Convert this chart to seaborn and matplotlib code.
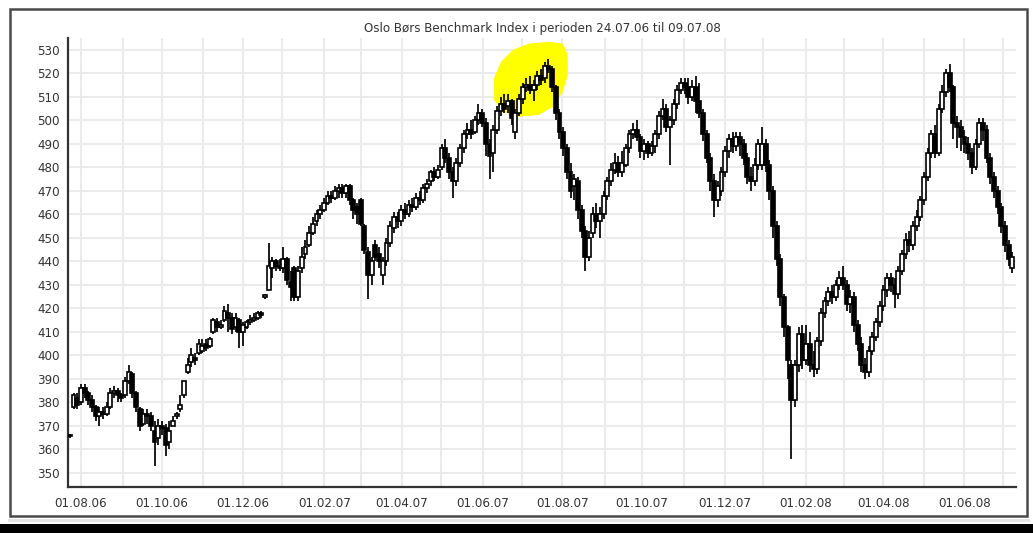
import numpy as np
import pandas as pd
import matplotlib
matplotlib.use("Agg")
import matplotlib.pyplot as plt
import seaborn as sns
from matplotlib.patches import Rectangle, Polygon

# OHLC, one candle per two trading days (24.07.06 - 09.07.08)
opens = [
    365.5, 378, 382,
    380, 386, 384, 381, 378, 374, 376, 375, 378, 384, 385, 383,
    383, 389, 392, 384, 377, 371, 375, 374, 368, 365,
    370, 369, 363, 370, 374, 377, 383, 393, 397, 399, 401,
    402, 405, 404, 410, 414, 412, 415, 418, 416, 412, 415,
    410, 412, 414, 415, 416, 418, 425, 428, 437, 440, 438,
    437, 441, 431, 437, 425, 437, 443, 447, 452, 457, 460,
    462, 465, 468, 467, 470, 471, 469, 472, 466, 463,
    466, 455, 444, 434, 447, 443, 434, 440, 448, 454, 459,
    457, 462, 460, 464, 463, 467, 466, 471, 474, 478, 476,
    480, 488, 484, 478, 474, 482, 488, 494, 496, 495, 500,
    503, 499, 490, 486, 496, 504, 507, 506, 508, 495, 503,
    509, 514, 515, 513, 515, 519, 518, 523, 522, 514, 503,
    495, 488, 478, 472, 474, 462, 453, 442, 452, 460, 457,
    460, 468, 474, 479, 482, 478, 481, 488, 494, 496,
    493, 487, 490, 486, 489, 494, 502, 505, 497, 500, 507, 513,
    516, 514, 510, 514, 508, 503, 494, 484, 474, 466, 470,
    478, 487, 492, 489, 493, 490, 484, 476, 474, 481,
    481, 490, 481, 470, 455, 441, 425, 412, 396, 381, 396, 409,
    398, 405, 396, 394, 406, 418, 423, 427, 425, 430,
    433, 430, 422, 425, 413, 405, 396, 393, 402, 408, 414,
    421, 428, 433, 430, 426, 436, 443, 449, 447, 455, 459,
    466, 476, 486, 494, 486, 505, 512, 520, 514, 499, 497,
    493, 490, 486, 480, 490, 499, 496, 484, 476, 470,
    463, 455, 447, 437,
]
highs = [
    366.5, 384, 384,
    388, 388, 385, 383, 379, 378, 378, 380, 386, 387, 386, 384,
    391, 396, 393, 385, 378, 377, 377, 376, 372, 373,
    372, 371, 372, 374, 376, 383, 389, 399, 403, 401, 407,
    407, 407, 408, 416, 416, 415, 421, 422, 418, 418, 416,
    414, 415, 417, 418, 419, 419, 426, 448, 442, 441, 441,
    446, 442, 436, 438, 438, 446, 449, 455, 459, 462, 464,
    467, 470, 470, 472, 473, 473, 473, 473, 467, 465,
    467, 456, 446, 442, 449, 446, 442, 450, 457, 461, 461,
    464, 465, 466, 467, 469, 470, 473, 475, 479, 480, 481,
    490, 492, 486, 480, 484, 490, 496, 499, 500, 502, 507,
    505, 501, 492, 498, 506, 510, 511, 511, 509, 505, 511,
    516, 518, 519, 517, 521, 522, 525, 526, 523, 515, 505,
    497, 490, 482, 477, 476, 464, 455, 453, 463, 465, 463,
    470, 476, 482, 486, 485, 487, 490, 496, 499, 500,
    494, 492, 491, 491, 496, 504, 509, 507, 502, 509, 515, 518,
    518, 518, 517, 519, 516, 505, 496, 486, 477, 474, 480,
    489, 494, 495, 495, 495, 492, 486, 480, 484, 492,
    497, 492, 483, 472, 457, 443, 426, 413, 398, 398, 412, 413,
    413, 410, 402, 408, 420, 425, 429, 430, 432, 436,
    438, 432, 428, 427, 415, 408, 399, 404, 410, 416, 423,
    430, 435, 435, 433, 438, 445, 452, 453, 457, 462, 468,
    478, 488, 496, 498, 507, 515, 522, 524, 515, 502, 500,
    496, 493, 488, 492, 501, 501, 498, 486, 478, 472,
    465, 457, 449, 444,
]
lows = [
    365, 377, 377,
    379, 382, 379, 376, 372, 370, 373, 374, 377, 382, 380, 380,
    382, 388, 382, 376, 368, 370, 371, 368, 353, 362,
    366, 357, 360, 370, 373, 376, 382, 392, 395, 396, 400,
    401, 402, 403, 409, 410, 411, 414, 410, 409, 410, 403,
    404, 411, 413, 414, 415, 416, 424, 428, 433, 436, 436,
    435, 430, 423, 423, 423, 435, 441, 446, 451, 455, 458,
    461, 464, 465, 466, 467, 467, 467, 464, 458, 456,
    455, 443, 424, 430, 440, 437, 430, 438, 446, 452, 454,
    455, 458, 459, 461, 462, 464, 465, 469, 472, 474, 475,
    479, 482, 475, 467, 472, 480, 486, 492, 492, 494, 498,
    497, 485, 475, 478, 494, 502, 503, 503, 498, 492, 502,
    507, 512, 511, 508, 513, 515, 516, 520, 512, 500, 492,
    485, 475, 467, 466, 458, 450, 436, 440, 450, 454, 450,
    458, 466, 472, 477, 476, 476, 480, 486, 492, 491,
    484, 483, 484, 485, 486, 492, 500, 495, 481, 498, 505, 511,
    511, 507, 508, 503, 501, 491, 482, 470, 459, 463, 468,
    476, 484, 486, 487, 485, 481, 473, 470, 472, 479,
    479, 478, 466, 450, 438, 421, 408, 390, 356, 378, 393, 394,
    396, 393, 391, 392, 404, 416, 421, 422, 423, 428,
    428, 419, 418, 410, 402, 393, 390, 391, 400, 406, 412,
    419, 425, 427, 420, 424, 434, 441, 444, 445, 453, 457,
    464, 474, 484, 484, 485, 503, 510, 512, 492, 488, 487,
    486, 483, 477, 479, 488, 491, 482, 473, 467, 460,
    452, 444, 438, 435,
]
closes = [
    366, 383, 379,
    386, 384, 381, 378, 374, 376, 375, 378, 384, 385, 383, 382,
    389, 393, 384, 378, 370, 375, 374, 370, 363, 370,
    369, 362, 368, 372, 375, 379, 389, 396, 400, 398, 405,
    404, 403, 407, 415, 412, 413, 419, 416, 411, 416, 410,
    413, 414, 415, 416, 418, 417, 425.5, 438, 440, 438, 437,
    441, 432, 429, 425, 436, 442, 446, 452, 456, 460, 462,
    465, 468, 467, 470, 471, 469, 472, 466, 462, 460,
    456, 445, 434, 440, 442, 440, 440, 448, 455, 459, 457,
    462, 460, 464, 463, 467, 466, 471, 473, 478, 476, 479,
    488, 484, 478, 474, 482, 488, 494, 496, 494, 500, 503,
    499, 490, 485, 496, 504, 507, 505, 508, 501, 503, 509,
    514, 515, 513, 515, 519, 517, 523, 522, 514, 503, 495,
    488, 478, 470, 475, 462, 453, 442, 450, 460, 457, 460,
    468, 474, 479, 482, 478, 482, 488, 494, 496, 493,
    487, 490, 486, 489, 494, 502, 505, 497, 500, 507, 513, 516,
    514, 510, 514, 508, 503, 494, 484, 474, 466, 472, 478,
    487, 492, 489, 493, 490, 484, 476, 474, 481, 490,
    490, 481, 470, 455, 441, 425, 412, 398, 381, 396, 409, 398,
    405, 396, 394, 406, 418, 423, 427, 425, 430, 433,
    430, 422, 425, 413, 405, 396, 393, 402, 408, 414, 421,
    428, 433, 430, 426, 436, 443, 449, 447, 455, 459, 466,
    476, 486, 494, 486, 505, 512, 520, 514, 499, 497, 493,
    490, 486, 480, 490, 499, 496, 484, 476, 470, 463,
    455, 447, 441, 442,
]

major_labels = ["01.08.06", "01.10.06", "01.12.06", "01.02.07", "01.04.07", "01.06.07",
                "01.08.07", "01.10.07", "01.12.07", "01.02.08", "01.04.08", "01.06.08"]
y_ticks = list(range(350, 531, 10))
title = "Oslo Børs Benchmark Index i perioden 24.07.06 til 09.07.08"

# yellow marker drawn by hand around the July 2007 top (trading-day index, index value)
highlight = [(230, 508.7), (230, 518.1), (233.8, 524.9), (240.3, 530.0), (248.9, 532.6),
             (259.7, 533.4), (267.3, 532.6), (270, 527.9), (270, 519.4), (267.3, 512.1),
             (261.9, 505.7), (254.3, 502.3), (243.5, 501.5), (234.9, 503.6)]

# trading-day axis
bdays = pd.bdate_range("2006-07-24", "2008-07-09")
n_days = len(bdays)
ser = pd.Series(np.arange(n_days), index=bdays)
month_first = ser.groupby([bdays.year, bdays.month]).first().values[1:]
month_names = ser.groupby([bdays.year, bdays.month]).apply(lambda s: s.index[0].strftime("01.%m.%y")).values[1:]
major_pos = [p for p, m in zip(month_first, month_names) if m in major_labels]
minor_pos = [p for p, m in zip(month_first, month_names) if m not in major_labels]

o = np.array(opens, float)
h = np.array(highs, float)
l = np.array(lows, float)
c = np.array(closes, float)
x = np.arange(len(c)) * n_days / len(c)

sns.set_style("whitegrid")
plt.rcParams["font.family"] = ["DejaVu Sans"]

fig = plt.figure(figsize=(10.33, 5.33), dpi=100)
ax = fig.add_axes([68 / 1033, 1 - 487 / 533, (1016 - 68) / 1033, (487 - 38) / 533])

ax.add_patch(Polygon(highlight, closed=True, facecolor="#ffff00", edgecolor="none", zorder=1))

ax.vlines(x, l, h, color="black", linewidth=1.25, zorder=2)
body_bottom = np.minimum(o, c)
body_height = np.maximum(np.abs(c - o), 0.4)
face = np.where(c >= o, "white", "black")
ax.bar(x, body_height, bottom=body_bottom, width=2.1, color=face, edgecolor="black",
       linewidth=1.2, zorder=3)

ax.set_xlim(-1, n_days)
ax.set_ylim(344, 535)
ax.set_yticks(y_ticks)
ax.set_xticks(major_pos)
ax.set_xticklabels(major_labels)
ax.set_xticks(minor_pos, minor=True)

ax.grid(True, which="both", axis="x", color="#ebebeb", linewidth=1.5)
ax.grid(True, which="major", axis="y", color="#ebebeb", linewidth=1.5)
ax.set_axisbelow(True)
for side in ["top", "right"]:
    ax.spines[side].set_visible(False)
for side in ["left", "bottom"]:
    ax.spines[side].set_color("#333333")
    ax.spines[side].set_linewidth(1.6)
ax.tick_params(axis="both", which="major", direction="out", length=4, width=1.2,
               color="#333333", labelsize=8.6, labelcolor="#333333", pad=2)
ax.tick_params(axis="x", which="minor", direction="out", length=2.5, width=1.2, color="#333333")
ax.tick_params(axis="x", which="major", pad=3)
ax.set_facecolor("white")
ax.set_title(title, fontsize=8.6, color="#333333", pad=4)

# screenshot frame and bottom strip
fig.patches.append(Rectangle((10 / 1033, 1 - 516 / 533), 1017 / 1033, 507 / 533,
                             transform=fig.transFigure, fill=False, edgecolor="#4a4a4a",
                             linewidth=1.8))
fig.patches.append(Rectangle((0, 0), 1, 9 / 533, transform=fig.transFigure,
                             facecolor="black", edgecolor="none"))
fig.patches.append(Rectangle((8 / 1033, 11 / 533), 1022 / 1033, 3 / 533,
                             transform=fig.transFigure, facecolor="#e6e6e6", edgecolor="none"))

fig.savefig("out.png", dpi=100)
